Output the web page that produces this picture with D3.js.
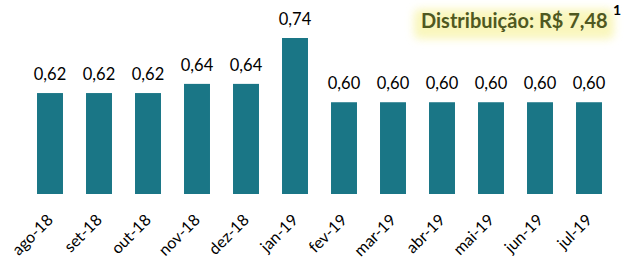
<!DOCTYPE html>
<html>
<head>
<meta charset="utf-8">
<script src="https://cdn.jsdelivr.net/npm/d3@7"></script>
<style>
  body { margin: 0; background: #fff; }
  svg { display: block; }
</style>
</head>
<body>
<svg width="628" height="262"></svg>
<script>
// monthly dividends (R$)
var months = ['ago-18', 'set-18', 'out-18', 'nov-18', 'dez-18', 'jan-19', 'fev-19', 'mar-19', 'abr-19', 'mai-19', 'jun-19', 'jul-19']
var values = [0.62, 0.62, 0.62, 0.64, 0.64, 0.74, 0.60, 0.60, 0.60, 0.60, 0.60, 0.60]
var totalLabel = 'Distribuição: R$ 7,48'
var noteMark = '1'

var fmt = function (d) { return d.toFixed(2).replace('.', ',') }

var svg = d3.select('svg')

var x = d3.scaleBand()
    .domain(months)
    .range([25.5, 613.5])
    .paddingInner(0.47)
    .paddingOuter(0.235)

var y = d3.scaleLinear()
    .domain([0.40, 0.74])
    .range([194, 38])

// yellow glow behind the total
var defs = svg.append('defs')
defs.append('filter')
    .attr('id', 'glow')
    .attr('x', '-20%').attr('y', '-60%')
    .attr('width', '140%').attr('height', '220%')
    .append('feGaussianBlur')
    .attr('stdDeviation', 4)

svg.append('rect')
    .attr('x', 414).attr('y', 9)
    .attr('width', 200).attr('height', 30)
    .attr('rx', 6)
    .attr('fill', '#f8f4ac')
    .attr('opacity', 0.8)
    .attr('filter', 'url(#glow)')

svg.append('text')
    .attr('x', 421)
    .attr('y', 28)
    .attr('font-family', 'Lato, sans-serif')
    .attr('font-weight', 'bold')
    .attr('font-size', 20)
    .attr('fill', '#4f581f')
    .text(totalLabel)

svg.append('text')
    .attr('x', 613)
    .attr('y', 15)
    .attr('font-family', 'Lato, sans-serif')
    .attr('font-weight', 'bold')
    .attr('font-size', 14)
    .attr('fill', '#000')
    .text(noteMark)

var g = svg.selectAll('g.bar')
    .data(values)
    .enter()
    .append('g')
    .attr('class', 'bar')

g.append('rect')
    .attr('x', function (d, i) { return x(months[i]) })
    .attr('y', function (d) { return y(d) })
    .attr('width', x.bandwidth())
    .attr('height', function (d) { return y(0.40) - y(d) })
    .attr('fill', '#1a7686')

g.append('text')
    .attr('x', function (d, i) { return x(months[i]) + x.bandwidth() / 2 })
    .attr('y', function (d) { return y(d) - 13 })
    .attr('text-anchor', 'middle')
    .attr('font-family', 'Lato, sans-serif')
    .attr('font-size', 16.5)
    .attr('fill', '#000')
    .text(fmt)

// rotated month labels
svg.append('g').selectAll('text')
    .data(months)
    .enter()
    .append('text')
    .attr('transform', function (d) {
        return 'translate(' + (x(d) + x.bandwidth() / 2 + 4) + ',221) rotate(-45)'
    })
    .attr('text-anchor', 'end')
    .attr('font-family', 'Lato, sans-serif')
    .attr('font-size', 16)
    .attr('fill', '#000')
    .text(function (d) { return d })
</script>
</body>
</html>
